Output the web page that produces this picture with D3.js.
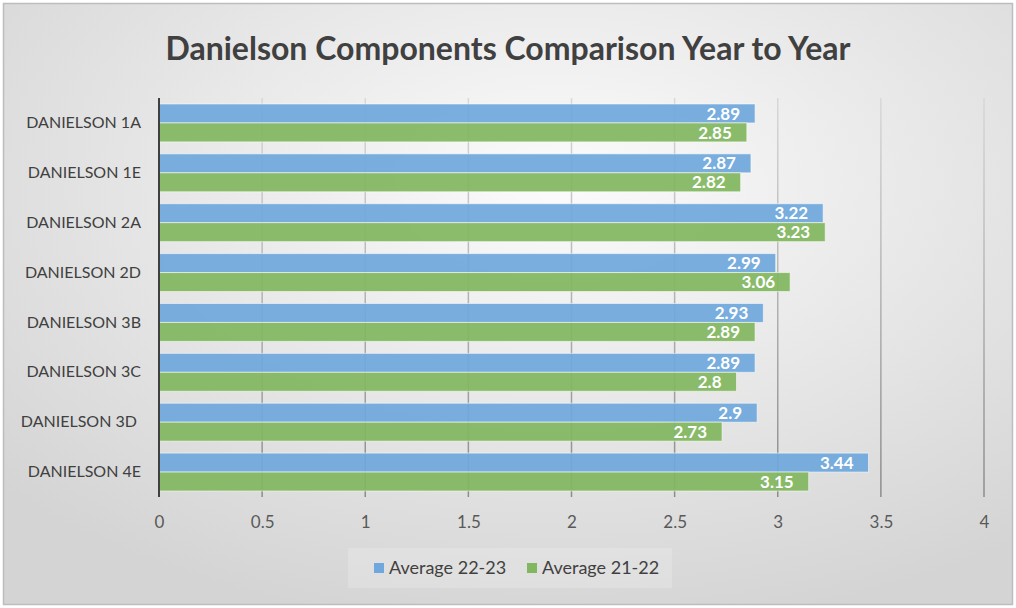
<!DOCTYPE html>
<html>
<head>
<meta charset="utf-8">
<script src="https://cdn.jsdelivr.net/npm/d3@7"></script>
<style>
  body { margin: 0; background: #fff; }
  svg { display: block; }
  text { font-family: Lato, "Open Sans", sans-serif; }
</style>
</head>
<body>
<script>
var w = 1016,
    h = 608;

// data
var categories = ["DANIELSON 1A", "DANIELSON 1E", "DANIELSON 2A", "DANIELSON 2D",
                  "DANIELSON 3B", "DANIELSON 3C", "DANIELSON 3D ", "DANIELSON 4E"];
var seriesNames = ["Average 22-23", "Average 21-22"];
var avg2223 = [2.89, 2.87, 3.22, 2.99, 2.93, 2.89, 2.9, 3.44];
var avg2122 = [2.85, 2.82, 3.23, 3.06, 2.89, 2.8, 2.73, 3.15];
var xTicks = [0, 0.5, 1, 1.5, 2, 2.5, 3, 3.5, 4];
var colors = ["#6fa8dc", "#82b761"];

var rows = categories.map(function(c, i) {
  return { cat: c, values: [avg2223[i], avg2122[i]] };
});

var svg = d3.select("body").append("svg")
    .attr("width", w)
    .attr("height", h);

var defs = svg.append("defs");

var bg = defs.append("radialGradient")
    .attr("id", "bg-grad")
    .attr("cx", "55%").attr("cy", "30%").attr("r", "75%");
bg.append("stop").attr("offset", "0%").attr("stop-color", "#fbfbfb");
bg.append("stop").attr("offset", "100%").attr("stop-color", "#d4d4d4");

var grid = defs.append("linearGradient")
    .attr("id", "grid-grad")
    .attr("gradientUnits", "userSpaceOnUse")
    .attr("x1", 0).attr("y1", 98).attr("x2", 0).attr("y2", 497);
grid.append("stop").attr("offset", "0%").attr("stop-color", "#d8d8d8");
grid.append("stop").attr("offset", "100%").attr("stop-color", "#8c8c8c");

// chart area + border
svg.append("rect")
    .attr("x", 3.5).attr("y", 3.5)
    .attr("width", 1009).attr("height", 601)
    .style("fill", "url(#bg-grad)")
    .style("stroke", "#bdbdbd")
    .style("stroke-width", 1.5);

// title, stretched to the width it has in the picture
var title = svg.append("text")
    .attr("x", 508).attr("y", 60)
    .attr("text-anchor", "middle")
    .style("font-size", "33px")
    .style("font-weight", "bold")
    .style("fill", "#404040")
    .text("Danielson Components Comparison Year to Year");
title.attr("textLength", 685).attr("lengthAdjust", "spacingAndGlyphs");

var x = d3.scaleLinear().domain([0, 4]).range([159, 984]);

var y = d3.scaleBand()
    .domain(categories)
    .range([98, 497])
    .paddingInner(0.24)
    .paddingOuter(0.12);

var ySub = d3.scaleBand()
    .domain([0, 1])
    .range([0, y.bandwidth()]);

// value axis labels
var xAxis = d3.axisBottom(x)
    .tickValues(xTicks)
    .tickSize(0)
    .tickFormat(d3.format("~g"));

var gx = svg.append("g")
    .attr("transform", "translate(0,497)")
    .call(xAxis);
gx.select(".domain").remove();
gx.selectAll("text")
    .attr("dy", null)
    .attr("y", 31)
    .style("font-size", "17px")
    .style("font-family", "Lato, sans-serif")
    .style("fill", "#595959");

// gridlines
svg.append("g").selectAll("line")
    .data(xTicks.filter(function(t) { return t > 0; }))
  .enter().append("line")
    .attr("x1", function(d) { return x(d); })
    .attr("x2", function(d) { return x(d); })
    .attr("y1", 98).attr("y2", 497)
    .style("stroke", "url(#grid-grad)")
    .style("stroke-width", 1.5);

// bars
var groups = svg.append("g").selectAll("g")
    .data(rows)
  .enter().append("g")
    .attr("transform", function(d) { return "translate(0," + y(d.cat) + ")"; });

groups.selectAll("rect")
    .data(function(d) { return d.values; })
  .enter().append("rect")
    .attr("x", x(0))
    .attr("y", function(d, i) { return ySub(i); })
    .attr("width", function(d) { return x(d) - x(0); })
    .attr("height", ySub.bandwidth())
    .style("fill", function(d, i) { return colors[i]; })
    .style("fill-opacity", 0.93)
    .style("stroke", "rgba(255,255,255,0.55)")
    .style("stroke-width", 1);

groups.selectAll("text")
    .data(function(d) { return d.values; })
  .enter().append("text")
    .attr("x", function(d) { return x(d) - 15; })
    .attr("y", function(d, i) { return ySub(i) + ySub.bandwidth() / 2; })
    .attr("dy", "0.36em")
    .attr("text-anchor", "end")
    .style("font-size", "17px")
    .style("font-weight", "bold")
    .style("fill", "#ffffff")
    .text(function(d) { return d; });

// category axis
var yAxis = d3.axisLeft(y).tickSize(0).tickPadding(18);
var gy = svg.append("g")
    .attr("transform", "translate(" + x(0) + ",0)")
    .call(yAxis);
gy.select(".domain").remove();
gy.selectAll("text")
    .style("font-size", "16px")
    .style("font-family", "Lato, sans-serif")
    .style("fill", "#404040")
    .style("white-space", "pre")
    .attr("xml:space", "preserve");

svg.append("line")
    .attr("x1", x(0)).attr("x2", x(0))
    .attr("y1", 98).attr("y2", 497)
    .style("stroke", "#404040")
    .style("stroke-width", 2);

// legend
var legend = svg.append("g");
legend.append("rect")
    .attr("x", 348).attr("y", 548)
    .attr("width", 324).attr("height", 40)
    .style("fill", "#ffffff")
    .style("fill-opacity", 0.18);

var legendX = [374, 527];
var items = legend.selectAll("g.item")
    .data(seriesNames)
  .enter().append("g")
    .attr("class", "item")
    .attr("transform", function(d, i) { return "translate(" + legendX[i] + ",563)"; });
items.append("rect")
    .attr("width", 10).attr("height", 10)
    .style("fill", function(d, i) { return colors[i]; });
items.append("text")
    .attr("x", 15).attr("y", 5)
    .attr("dy", "0.36em")
    .style("font-size", "18px")
    .style("fill", "#404040")
    .text(function(d) { return d; });
</script>
</body>
</html>
